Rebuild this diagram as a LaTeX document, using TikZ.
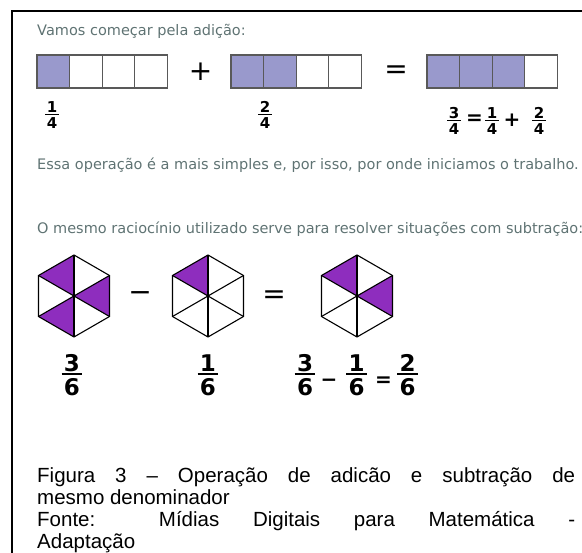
\documentclass[tikz,border=0pt]{standalone}
\usepackage{fontspec}
\setmainfont{Liberation Sans}
\newfontfamily\verdfont{DejaVu Sans}
\definecolor{barfill}{RGB}{153,153,204}
\definecolor{hexfill}{RGB}{142,45,190}
\definecolor{notegray}{RGB}{95,115,115}
\newcommand{\fracbar}[3][1pt]{\vbox{\offinterlineskip\halign{\hfil\kern.1em##\kern.1em\hfil\cr#2\cr\noalign{\kern.08em\hrule height#1\kern.14em}#3\cr}}}
\tikzset{
	note/.style={font=\verdfont\fontsize{14.5}{16}\selectfont,text=notegray,inner sep=0pt,anchor=base west},
	cellbox/.style={draw=black!65,line width=1.1pt},
	hexline/.style={line width=1.1pt,line join=miter},
	sign/.style={font=\verdfont\fontsize{28}{30}\selectfont,inner sep=0pt},
	boldsign/.style={font=\verdfont\bfseries\fontsize{20}{22}\selectfont,inner sep=0pt},
	smallfrac/.style={font=\verdfont\bfseries\fontsize{15}{15}\selectfont,inner sep=0pt},
	bigfrac/.style={font=\verdfont\bfseries\fontsize{23}{23}\selectfont,inner sep=0pt},
	caption/.style={font=\fontsize{20.5}{22.2}\selectfont,text width=538pt,align=justify,inner sep=0pt,anchor=north west}
}
\begin{document}
\begin{tikzpicture}[x=1pt,y=1pt]
	\useasboundingbox(0,0) rectangle (582,-553);
	\draw[line width=2.2pt](582,-11)--(12,-11)--(12,-553);
	% adicao
	\node[note] (vamos) at(37,-36){Vamos começar pela adição:};
	\foreach \bx/\nfill in {37/1,231/2,427/3}
		\foreach \i in {0,...,3}{
			\ifnum\i<\nfill \def\cellcol{barfill}\else\def\cellcol{white}\fi
			\draw[cellbox,fill=\cellcol](\bx+\i*32.6,-55) rectangle +(32.6,-33);
		}
	\node[sign] (plusA) at(200.5,-72){+};
	\node[sign] (eqA) at(396,-72.5){=};
	\node[smallfrac] (fA) at(52,-115){\fracbar{1}{4}};
	\node[smallfrac] (fB) at(265,-115){\fracbar{2}{4}};
	\node[smallfrac] (fC) at(454,-121){\fracbar{3}{4}};
	\node[boldsign] (eqB) at(474.5,-120){=};
	\node[smallfrac] (fD) at(492,-121){\fracbar{1}{4}};
	\node[boldsign] (plusB) at(512,-120){+};
	\node[smallfrac] (fE) at(539,-121){\fracbar{2}{4}};
	\node[note] (essa) at(37,-170){Essa operação é a mais simples e, por isso, por onde iniciamos o trabalho.};
	% subtracao
	\node[note] (mesmo) at(37,-234){O mesmo raciocínio utilizado serve para resolver situações com subtração:};
	\foreach \cx/\hname/\parts in {74/A/{90,330,210},208/B/{90},357/C/{90,330}}{
		\coordinate (hex\hname) at(\cx,-296);
		\foreach \a in \parts
			\fill[hexfill](hex\hname)--+(\a:41)--+(\a+60:41)--cycle;
		\draw[hexline](hex\hname)+(30:41)--+(90:41)--+(150:41)--+(210:41)--+(270:41)--+(330:41)--cycle;
		\foreach \a in {30,90,...,330}
			\draw[hexline](hex\hname)--+(\a:41);
	}
	\node[sign] (minusA) at(140,-297){−};
	\node[sign] (eqC) at(274,-297.5){=};
	\node[bigfrac] (gA) at(72,-375){\fracbar[2.2pt]{3}{6}};
	\node[bigfrac] (gB) at(208,-375){\fracbar[2.2pt]{1}{6}};
	\node[bigfrac] (gC) at(305,-375){\fracbar[2.2pt]{3}{6}};
	\node[boldsign] (minusB) at(329,-383){−};
	\node[bigfrac] (gD) at(356.5,-375){\fracbar[2.2pt]{1}{6}};
	\node[boldsign] (eqD) at(383.5,-381.5){=};
	\node[bigfrac] (gE) at(407.5,-375){\fracbar[2.2pt]{2}{6}};
	% legenda
	\node[caption] (cap) at(37,-467){Figura 3 – Operação de adicão e subtração de\linebreak mesmo denominador\\Fonte: Mídias Digitais para Matemática -\linebreak Adaptação};
\end{tikzpicture}
\end{document}
